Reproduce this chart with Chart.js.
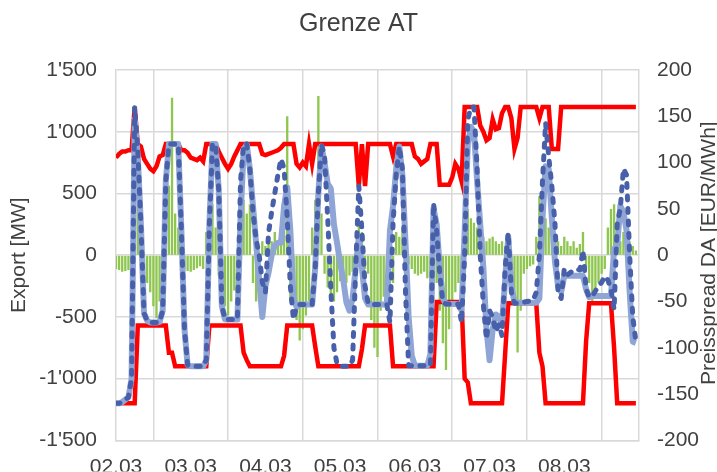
<!DOCTYPE html>
<html>
<head>
<meta charset="utf-8">
<title>Grenze AT</title>
<script src="https://cdn.jsdelivr.net/npm/chart.js@4.4.1/dist/chart.umd.min.js"></script>
<style>
  html, body { margin: 0; padding: 0; background: #ffffff; overflow: hidden; }
  #wrap { position: relative; width: 717px; height: 472px; }
</style>
</head>
<body>
<div id="wrap"><canvas id="chart"></canvas></div>
<script>
/*global document, window, Chart*/
/*jslint indent: 2 */

// x axis: one value per hour, 02.03 00:00 .. 08.03 23:00
var day_label_list = ["02.03", "03.03", "04.03", "05.03", "06.03", "07.03", "08.03"];

// left axis [MW]
var export_limit_list = [
  790, 820, 840, 840, 850, 850, 1200, 900, 880, 780,
  740, 700, 680, 720, 800, 810, 900, 900, 900, 900,
  900, 850, 850, 830, 790, 780, 770, 790, 760, 900,
  900, 900, 900, 840, 790, 740, 700, 740, 800, 850,
  900, 900, 900, 900, 900, 900, 900, 820, 810, 820,
  830, 840, 850, 870, 900, 900, 900, 900, 740, 710,
  750, 720, 900, 740, 900, 900, 900, 900, 900, 900,
  900, 900, 900, 900, 900, 900, 900, 900, 560, 900,
  560, 900, 900, 900, 900, 900, 900, 900, 900, 800,
  900, 900, 900, 900, 900, 900, 800, 780, 740, 760,
  780, 900, 900, 900, 570, 570, 570, 570, 630, 740,
  700, 600, 1200, 1200, 1200, 1200, 1200, 1050, 1000, 930,
  950, 1100, 1020, 1030, 1150, 1200, 1200, 1110, 860, 950,
  1200, 1200, 1200, 1200, 1200, 1200, 1110, 1200, 1200, 1200,
  860, 860, 860, 1200, 1200, 1200, 1200, 1200, 1200, 1200,
  1200, 1200, 1200, 1200, 1200, 1200, 1200, 1200, 1200, 1200,
  1200, 1200, 1200, 1200, 1200, 1200, 1200, 1200
];

var import_limit_list = [
  -1200, -1200, -1200, -1200, -1200, -1200, -1200, -570, -570, -570,
  -570, -570, -570, -570, -570, -570, -570, -790, -790, -900,
  -900, -900, -900, -900, -900, -900, -900, -900, -900, -900,
  -570, -570, -570, -570, -570, -570, -570, -570, -570, -570,
  -570, -790, -850, -900, -900, -900, -900, -900, -900, -900,
  -900, -900, -900, -900, -815, -570, -570, -570, -570, -570,
  -570, -570, -570, -570, -740, -900, -900, -900, -900, -900,
  -900, -900, -900, -900, -900, -900, -900, -900, -900, -760,
  -570, -570, -570, -570, -570, -570, -570, -570, -570, -900,
  -900, -900, -900, -900, -900, -900, -900, -900, -900, -900,
  -900, -900, -900, -380, -380, -380, -380, -380, -380, -380,
  -380, -380, -1000, -1030, -1200, -1200, -1200, -1200, -1200, -1200,
  -1200, -1200, -1200, -1200, -1200, -800, -390, -390, -390, -390,
  -390, -390, -390, -390, -390, -390, -790, -900, -1200, -1200,
  -1200, -1200, -1200, -1200, -1200, -1200, -1200, -1200, -1200, -1200,
  -1200, -700, -390, -390, -390, -390, -390, -390, -390, -390,
  -750, -1200, -1200, -1200, -1200, -1200, -1200, -1200
];

var flow_dashed_list = [
  -1200, -1200, -1190, -1170, -1150, -1000, 1200, 850, 250, -470,
  -530, -545, -545, -545, -540, -450, 600, 900, 900, 900,
  900, 200, -600, -890, -900, -900, -900, -900, -900, -850,
  250, 900, 900, 530, -410, -520, -520, -520, -520, -520,
  600, 900, 900, 700, 350, 130, 0, -220, -300, 180,
  350, 500, 650, 780, 700, 300, -250, -520, -420, -400,
  -400, -400, -400, -400, -100, 500, 900, 800, 300, -270,
  -750, -880, -900, -900, -900, -900, -850, -100, 560, 200,
  -250, -390, -400, -400, -400, -400, -400, -400, -545, 264,
  650, 880, 700, -300, -895, -895, -895, -895, -895, -895,
  -895, -895, 420, 200, -150, -380, -396, -396, -396, -396,
  -396, -545, 0, 1100, 1200, 1200, 700, 0, -400, -680,
  -450, -500, -620, -560, -650, -100, 180, -300, -390, -390,
  -385, -380, -375, -370, -365, -300, 0, 600, 1070, 800,
  560, 260, -300, -350, -113, -160, -140, -120, -113, -120,
  40, -275, -340, -330, -290, -250, -220, -170, -200, -280,
  -440, 250, 380, 700, 650, 0, -500, -700
];

var flow_solid_list = [
  -1200, -1200, -1190, -1170, -1150, -1000, 1100, 800, 250, -470,
  -530, -545, -545, -545, -540, -450, 600, 900, 900, 900,
  900, 200, -600, -890, -900, -900, -900, -900, -900, -850,
  250, 900, 900, 530, -410, -520, -520, -520, -520, -520,
  300, 850, 900, 700, 400, 100, -200, -500, -250, -140,
  0, 80, 100, 100, 400, 550, 200, -350, -420, -400,
  -400, -400, -400, -400, -100, 500, 880, 750, 580, 540,
  250, 100, -60, -200, -380, -450, -350, -100, 150, -100,
  -350, -400, -400, -400, -400, -400, -400, -400, 200, 400,
  700, 880, 650, 100, -500, -814, -895, -895, -895, -895,
  -895, -800, 380, 250, -100, -350, -396, -396, -396, -396,
  -396, -450, 200, 900, 1040, 1000, 600, 250, -100, -600,
  -850, -600, -480, -500, -550, -200, 150, -250, -380, -385,
  -385, -385, -385, -385, -385, -385, -350, 300, 720, 700,
  300, -50, -250, -300, -167, -167, -167, -167, -167, -167,
  -167, -275, -340, -330, -330, -330, -330, -330, -330, -330,
  50, 80, 400, 350, 200, -300, -700, -710
];

// right axis [EUR/MWh]
var price_spread_list = [
  -15, -16, -18, -17, -16, -15, 20, 55, 40, -20,
  -30, -40, -55, -68, -50, -30, 50, 75, 170, 45,
  30, -10, -15, -17, -18, -16, -14, -12, -15, 25,
  40, 55, 30, -22, -40, -55, -65, -50, -38, -25,
  40, 60, 45, 55, -30, -50, -40, 15, 10, 20,
  15, 25, 15, 30, 30, 150, -50, -45, -70, -92,
  -80, -65, -50, 30, 60, 172, 45, -20, -35, -45,
  -50, -40, -28, -25, -30, -22, -18, -15, 35, 25,
  -15, -20, -70, -100, -110, -60, -45, -50, -40, -30,
  25, 20, 30, 25, -10, -15, -20, -22, -20, -18,
  -25, -35, 20, -30, -60, -95, -124, -80, -50, -40,
  -30, -20, 30, 50, 40, 35, 30, 25, 20, 15,
  18, 20, 15, 12, 15, 10, -15, -30, -45, -105,
  -60, -20, -15, -12, -10, 20, 64, 50, 40, 30,
  25, 20, 15, 10, 20, 15, 10, 15, 8, 12,
  25, -15, -30, -50, -40, -30, -20, -15, 30, 50,
  55, 20, 15, 25, 20, 15, 10, 5
];

var chart_title = "Grenze AT";
var left_axis_title = "Export [MW]";
var right_axis_title = "Preisspread DA [EUR/MWh]";

(function (document, Chart) {
  "use strict";

  var text_color = "#404040",
    grid_color = "#d9d9d9",
    font_family = "'Liberation Sans', Arial, sans-serif";

  function toPoints(value_list) {
    return value_list.map(function (value, hour) {
      return {x: hour, y: value};
    });
  }

  function formatThousands(value) {
    var text = String(Math.abs(value)).replace(/\B(?=(\d{3})+(?!\d))/g, "'");
    return (value < 0 ? "-" : "") + text;
  }

  // right title reads bottom to top, like the left one
  var right_title_plugin = {
    id: "right_title",
    afterDraw: function (chart) {
      var ctx = chart.ctx,
        area = chart.chartArea,
        scale = chart.scales.y1;
      ctx.save();
      ctx.font = "21px " + font_family;
      ctx.fillStyle = text_color;
      ctx.textAlign = "center";
      ctx.textBaseline = "middle";
      ctx.translate(scale.right - 8, (area.top + area.bottom) / 2 - 2);
      ctx.rotate(-Math.PI / 2);
      ctx.fillText(right_axis_title, 0, 0);
      ctx.restore();
    }
  };

  Chart.defaults.font.family = font_family;
  Chart.defaults.color = text_color;

  new Chart(document.getElementById("chart"), {
    type: "line",
    data: {
      datasets: [
        {
          label: "flow dashed",
          data: toPoints(flow_dashed_list),
          borderColor: "#4860aa",
          borderWidth: 5,
          borderDash: [4, 8.5],
          borderCapStyle: "round",
          borderJoinStyle: "round",
          pointRadius: 0,
          yAxisID: "y",
          order: 1
        },
        {
          label: "flow solid",
          data: toPoints(flow_solid_list),
          borderColor: "#8fa5d5",
          borderWidth: 6,
          borderJoinStyle: "round",
          pointRadius: 0,
          yAxisID: "y",
          order: 2
        },
        {
          label: "export limit",
          data: toPoints(export_limit_list),
          borderColor: "#ff0000",
          borderWidth: 4.5,
          borderJoinStyle: "miter",
          pointRadius: 0,
          yAxisID: "y",
          order: 3
        },
        {
          label: "import limit",
          data: toPoints(import_limit_list),
          borderColor: "#ff0000",
          borderWidth: 4.5,
          borderJoinStyle: "miter",
          pointRadius: 0,
          yAxisID: "y",
          order: 4
        },
        {
          type: "bar",
          label: "price spread",
          data: toPoints(price_spread_list),
          backgroundColor: "#8fc64f",
          borderWidth: 0,
          barPercentage: 0.75,
          categoryPercentage: 1,
          grouped: false,
          yAxisID: "y1",
          order: 5
        }
      ]
    },
    options: {
      responsive: true,
      maintainAspectRatio: false,
      animation: false,
      layout: {padding: 0},
      elements: {line: {tension: 0}},
      plugins: {
        legend: {display: false},
        tooltip: {enabled: false},
        title: {
          display: true,
          text: chart_title,
          color: text_color,
          font: {size: 25, weight: "normal"},
          padding: {top: 9, bottom: 31}
        }
      },
      scales: {
        x: {
          type: "linear",
          min: 0,
          max: 168,
          offset: false,
          afterFit: function (scale) {
            scale.height = 31;
          },
          grid: {color: grid_color, lineWidth: 1.5, drawTicks: false},
          border: {color: grid_color, width: 1.5},
          ticks: {
            stepSize: 24,
            autoSkip: false,
            maxRotation: 0,
            padding: 14,
            font: {size: 21},
            color: text_color,
            callback: function (value) {
              return day_label_list[value / 24] || "";
            }
          }
        },
        y: {
          position: "left",
          min: -1500,
          max: 1500,
          afterFit: function (scale) {
            scale.width = 116;
          },
          grid: {color: grid_color, lineWidth: 1.5, drawTicks: false},
          border: {color: grid_color, width: 1.5},
          title: {
            display: true,
            text: left_axis_title,
            color: text_color,
            font: {size: 21},
            padding: {top: 7, bottom: 0}
          },
          ticks: {
            stepSize: 500,
            padding: 19,
            font: {size: 21},
            color: text_color,
            callback: formatThousands
          }
        },
        y1: {
          position: "right",
          min: -200,
          max: 200,
          afterFit: function (scale) {
            scale.width = 78;
          },
          grid: {drawOnChartArea: false, drawTicks: false},
          border: {color: grid_color, width: 1.5},
          ticks: {
            stepSize: 50,
            padding: 18,
            font: {size: 21},
            color: text_color
          }
        }
      }
    },
    plugins: [right_title_plugin]
  });
}(document, Chart));
</script>
</body>
</html>
